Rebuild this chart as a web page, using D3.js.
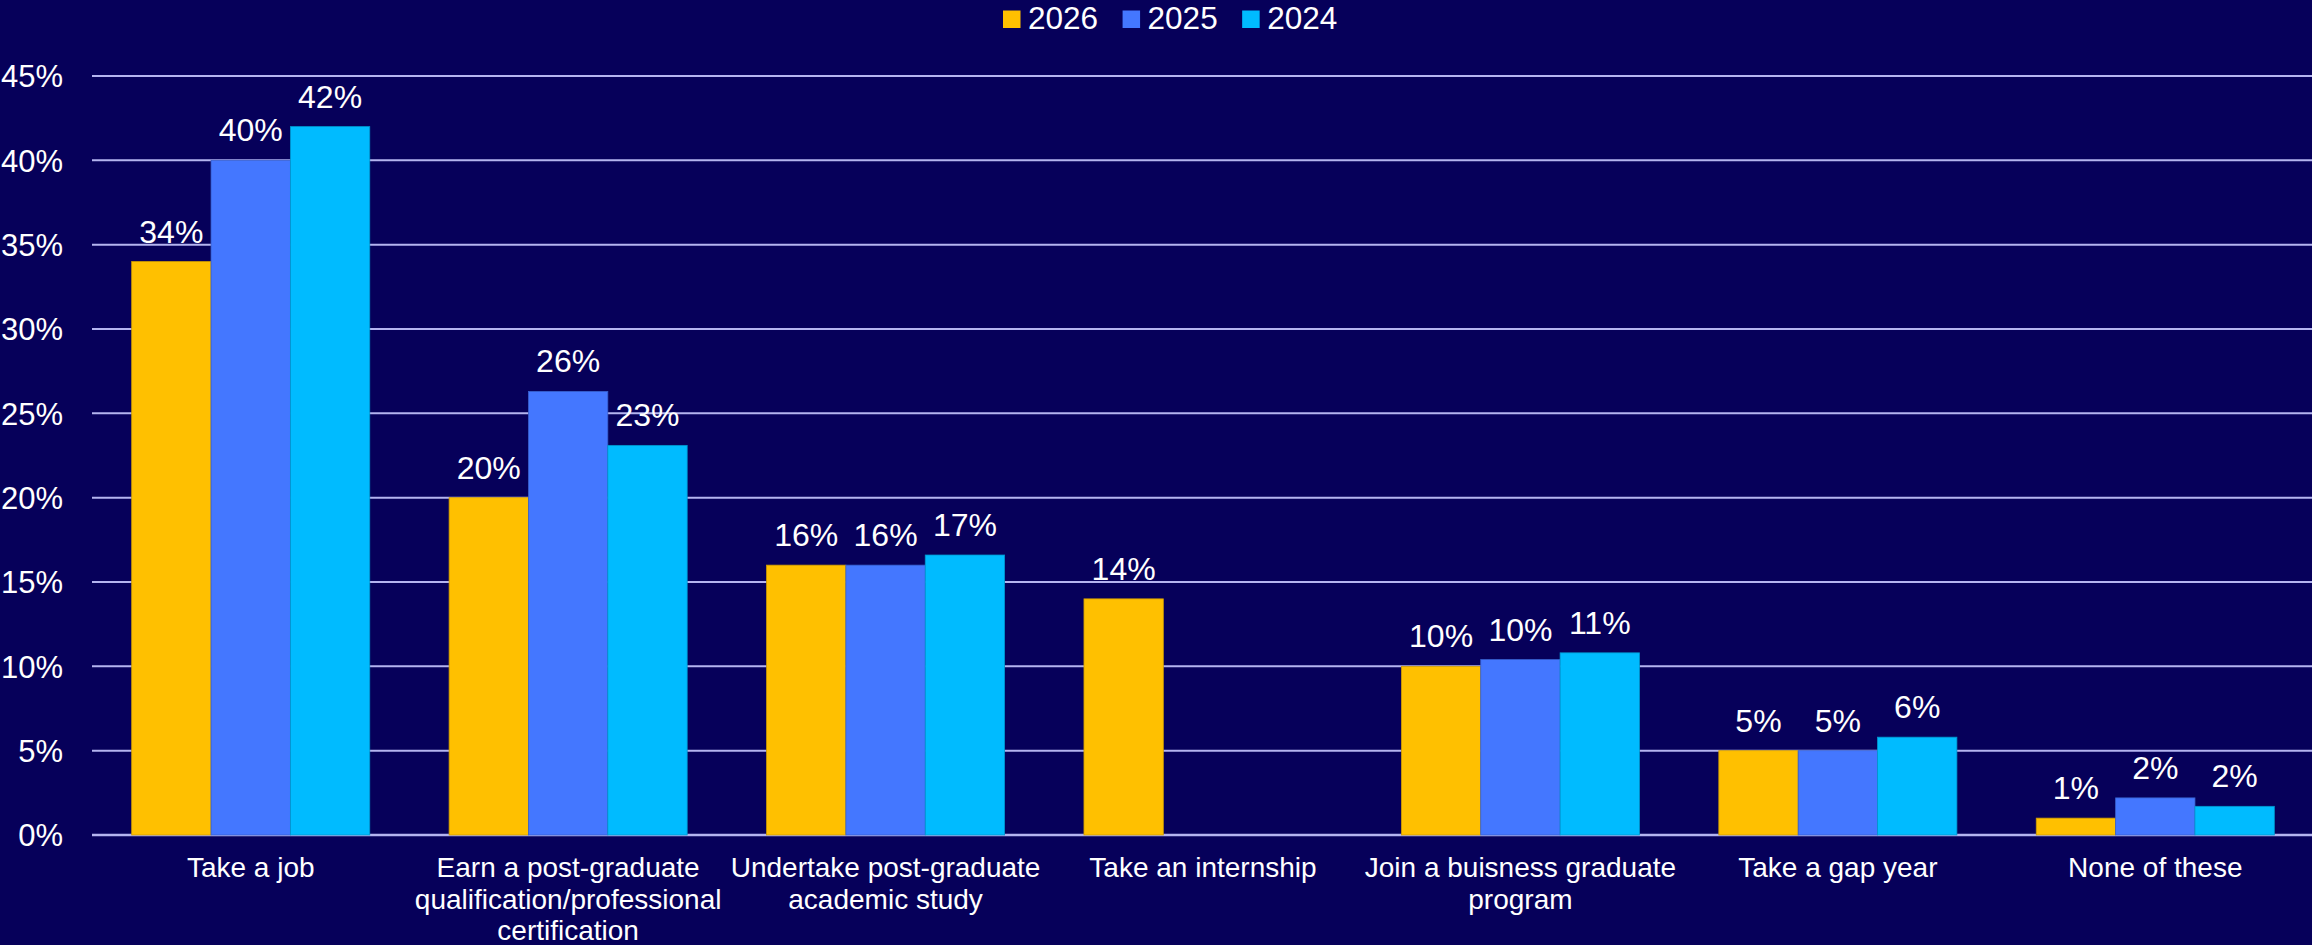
<!DOCTYPE html>
<html>
<head>
<meta charset="utf-8">
<script src="https://cdn.jsdelivr.net/npm/d3@7"></script>
<style>
  html, body { margin: 0; padding: 0; background: #06005A; }
  svg { display: block; }
  text { font-family: "Liberation Sans", Arial, sans-serif; fill: #FFFFFF; }
</style>
</head>
<body>
<svg id="chart" width="2312" height="945"></svg>
<script>
const categories = [
  "Take a job",
  "Earn a post-graduate qualification/professional certification",
  "Undertake post-graduate academic study",
  "Take an internship",
  "Join a buisness graduate program",
  "Take a gap year",
  "None of these"
];
const seriesNames = ["2026", "2025", "2024"];
const values2026 = [34, 20, 16, 14, 10, 5, 1.0];
const values2025 = [40, 26.3, 16, null, 10.4, 5, 2.2];
const values2024 = [42, 23.1, 16.6, null, 10.8, 5.8, 1.7];
const seriesColors = ["#FFC000", "#4477FF", "#00BBFF"];
const yTicks = [0, 5, 10, 15, 20, 25, 30, 35, 40, 45];

const series = [values2026, values2025, values2024];

const W = 2312, H = 945;
const svg = d3.select("#chart");
svg.append("rect").attr("width", W).attr("height", H).attr("fill", "#06005A");

const x0 = d3.scaleBand().domain(categories).range([92, 2314]).paddingInner(0.25).paddingOuter(0.125);
const x1 = d3.scaleBand().domain(seriesNames).range([0, x0.bandwidth()]);
const y = d3.scaleLinear().domain([0, 45]).range([835, 76]);

// gridlines
const grid = svg.append("g");
grid.selectAll("line").data(yTicks).join("line")
  .attr("x1", 92).attr("x2", 2312)
  .attr("y1", d => y(d)).attr("y2", d => y(d))
  .attr("stroke", "#B4B4F0").attr("stroke-width", d => d === 0 ? 2.5 : 2);

// y axis labels
const yAxis = d3.axisLeft(y).tickValues(yTicks).tickFormat(d => d + "%").tickSize(0).tickPadding(0);
const yg = svg.append("g").attr("transform", "translate(63,0)").call(yAxis);
yg.select(".domain").remove();
yg.selectAll("text").attr("font-size", 31).attr("font-family", '"Liberation Sans", Arial, sans-serif')
  .attr("fill", "#FFFFFF").attr("dy", "0.35em");

// bars
const groups = svg.append("g").selectAll("g").data(categories).join("g")
  .attr("transform", d => `translate(${x0(d)},0)`);

seriesNames.forEach((s, si) => {
  groups.each(function(cat, ci) {
    const v = series[si][ci];
    if (v === null || v === undefined) return;
    const g = d3.select(this);
    g.append("rect")
      .attr("x", x1(s)).attr("width", x1.bandwidth())
      .attr("y", y(v)).attr("height", y(0) - y(v))
      .attr("fill", seriesColors[si])
      .attr("stroke", d3.color(seriesColors[si]).darker(0.6))
      .attr("stroke-width", 0.8);
    g.append("text")
      .attr("x", x1(s) + x1.bandwidth() / 2)
      .attr("y", y(v) - 19)
      .attr("text-anchor", "middle")
      .attr("font-size", 32)
      .text(Math.round(v) + "%");
  });
});

// x axis labels with wrapping
const xl = svg.append("g");
const maxW = x0.step() - 2;
categories.forEach(cat => {
  const cx = x0(cat) + x0.bandwidth() / 2;
  const t = xl.append("text").attr("x", cx).attr("y", 877).attr("text-anchor", "middle").attr("font-size", 28);
  const words = cat.split(" ");
  let line = [];
  let lineNo = 0;
  let tspan = t.append("tspan").attr("x", cx).attr("y", 877);
  words.forEach(w => {
    line.push(w);
    tspan.text(line.join(" "));
    if (tspan.node().getComputedTextLength() > maxW && line.length > 1) {
      line.pop();
      tspan.text(line.join(" "));
      line = [w];
      lineNo++;
      tspan = t.append("tspan").attr("x", cx).attr("y", 877 + lineNo * 31.7).text(w);
    }
  });
});

// legend
const leg = svg.append("g");
let lx = 1003;
seriesNames.forEach((s, i) => {
  leg.append("rect").attr("x", lx).attr("y", 10.5).attr("width", 17.5).attr("height", 17.5).attr("fill", seriesColors[i]);
  const t = leg.append("text").attr("x", lx + 25).attr("y", 29).attr("font-size", 31.5).text(s);
  lx = lx + 25 + t.node().getComputedTextLength() + 24.5;
});
</script>
</body>
</html>
